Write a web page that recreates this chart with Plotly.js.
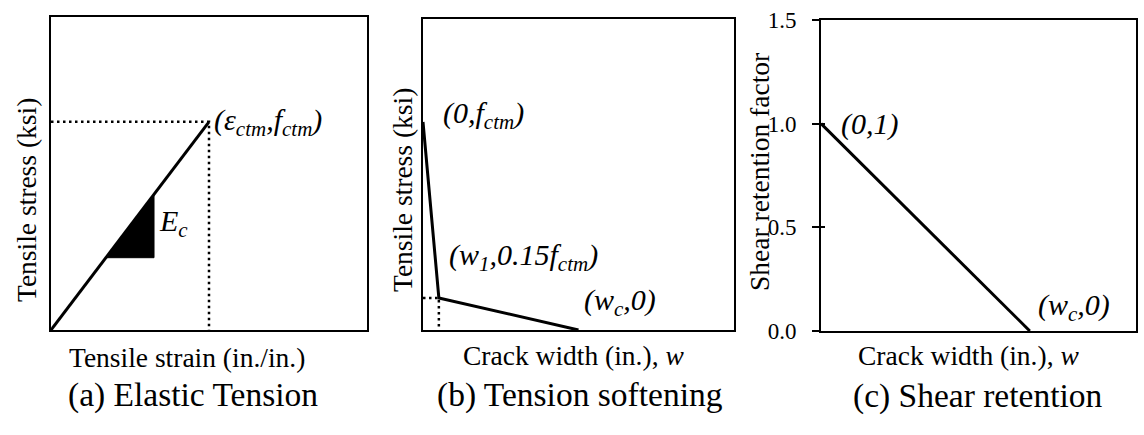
<!DOCTYPE html>
<html>
<head>
<meta charset="utf-8">
<script src="https://cdn.plot.ly/plotly-3.0.1.min.js"></script>
<style>html,body{margin:0;padding:0;background:#fff;}#chart{width:1144px;height:435px;}</style>
</head>
<body>
<div id="chart"></div>
<script>
// ---- Data (normalised) ----
// (a) Elastic tension
const elasticStrain = [0, 0.5];
const elasticStress = [0, 0.665];
const slopeTriX = [0.174, 0.326, 0.326, 0.174];
const slopeTriY = [0.231, 0.434, 0.231, 0.231];
const peakGuideX = [0, 0.5, 0.5];
const peakGuideY = [0.665, 0.665, 0];
// (b) Tension softening
const softW = [0, 0.051, 0.5];
const softStress = [0.669, 0.103, 0];
const kneeGuideX = [0, 0.051, 0.051];
const kneeGuideY = [0.103, 0.103, 0];
// (c) Shear retention
const shearW = [0, 0.663];
const shearFactor = [1.0, 0.0];
const shearTickVals = [0, 0.5, 1.0, 1.5];
const shearTickText = ["0.0", "0.5", "1.0", "1.5"];

// ---- pick an installed Times-like serif font ----
function hasFont(name) {
  const ctx = document.createElement("canvas").getContext("2d");
  const s = "mmmmmmmmmmlli Tensile stress (ksi) 0.5 WwQq";
  for (const base of ["monospace", "sans-serif"]) {
    ctx.font = "40px " + base;
    const w0 = ctx.measureText(s).width;
    ctx.font = '40px "' + name + '", ' + base;
    const w1 = ctx.measureText(s).width;
    if (Math.abs(w0 - w1) < 0.01) return false;
  }
  return true;
}
let FONT = "DejaVu Serif", K = 0.82;
for (const cand of ["Liberation Serif", "Times New Roman", "Tinos", "Nimbus Roman", "FreeSerif"]) {
  if (hasFont(cand)) { FONT = cand; K = 1; break; }
}

const W = 1144, H = 435;
const px = v => v / W;
const py = v => 1 - v / H;

const solid = {color: "#000", width: 3};
const dotted = {color: "#000", width: 2.5, dash: "2.5px,3.5px"};

const traces = [
  {x: slopeTriX, y: slopeTriY, xaxis: "x", yaxis: "y", mode: "lines", fill: "toself", fillcolor: "#000", line: {color: "#000", width: 1}, hoverinfo: "skip"},
  {x: peakGuideX, y: peakGuideY, xaxis: "x", yaxis: "y", mode: "lines", line: dotted, hoverinfo: "skip"},
  {x: elasticStrain, y: elasticStress, xaxis: "x", yaxis: "y", mode: "lines", line: solid},
  {x: kneeGuideX, y: kneeGuideY, xaxis: "x2", yaxis: "y2", mode: "lines", line: dotted, hoverinfo: "skip"},
  {x: softW, y: softStress, xaxis: "x2", yaxis: "y2", mode: "lines", line: solid},
  {x: shearW, y: shearFactor, xaxis: "x3", yaxis: "y3", mode: "lines", line: solid},
  {x: [], y: [], xaxis: "x3", yaxis: "y4", mode: "lines", hoverinfo: "skip"}
];

const boxAxis = (dom, anchor) => ({
  domain: dom, anchor: anchor, range: [0, 1], showgrid: false, zeroline: false,
  showline: true, mirror: true, linecolor: "#000", linewidth: 2,
  showticklabels: false, ticks: "", fixedrange: true
});

const annFont = {family: FONT, size: Math.round(30 * K), color: "#000"};
const titleFont = {family: FONT, size: 27.5 * K, color: "#000"};
const subFont = {family: FONT, size: 33.5 * K, color: "#000"};
const tickFont = {family: FONT, size: Math.round(23 * K), color: "#000"};

const ann = (text, x, y, xref, yref, opts) => Object.assign({
  text: text, x: x, y: y, xref: xref, yref: yref, showarrow: false,
  font: annFont, xanchor: "left", yanchor: "middle"
}, opts || {});

const layout = {
  width: W, height: H,
  margin: {l: 0, r: 0, t: 0, b: 0},
  paper_bgcolor: "#fff", plot_bgcolor: "#fff",
  font: {family: FONT, color: "#000"},
  showlegend: false,
  xaxis: boxAxis([px(51), px(367)], "y"),
  yaxis: boxAxis([py(330), py(17)], "x"),
  xaxis2: boxAxis([px(423), px(734)], "y2"),
  yaxis2: boxAxis([py(330), py(19)], "x2"),
  xaxis3: boxAxis([px(821), px(1136)], "y3"),
  yaxis3: Object.assign(boxAxis([py(331), py(20)], "x3"), {
    range: [0, 1.5], showticklabels: true, ticks: "outside", ticklen: 7, tickwidth: 2, tickcolor: "#000",
    tickvals: shearTickVals, ticktext: shearTickText, ticklabelstandoff: 11,
    tickfont: tickFont
  }),
  yaxis4: {
    domain: [py(331), py(20)], anchor: "x3", overlaying: "y3", range: [0, 1.5],
    showgrid: false, zeroline: false, showline: false, showticklabels: false,
    ticks: "inside", ticklen: 4, tickwidth: 2, tickcolor: "#000", tickvals: shearTickVals, fixedrange: true
  },
  annotations: [
    // panel (a)
    ann("<i>(ε<sub>ctm</sub>,f<sub>ctm</sub>)</i>", 0.5, 0.665, "x", "y", {xshift: 3}),
    ann("<i>E<sub>c</sub></i>", 0.326, 0.342, "x", "y", {xshift: 3}),
    ann("Tensile stress (ksi)", px(26), py(200), "paper", "paper", {textangle: -90, xanchor: "center", font: titleFont}),
    ann("Tensile strain (in./in.)", px(187), py(357), "paper", "paper", {xanchor: "center", font: titleFont}),
    ann("(a) Elastic Tension", px(193), py(395), "paper", "paper", {xanchor: "center", font: subFont}),
    // panel (b)
    ann("<i>(0,f<sub>ctm</sub>)</i>", 0.058, 0.691, "x2", "y2"),
    ann("<i>(w<sub>1</sub>,0.15f<sub>ctm</sub>)</i>", 0.077, 0.235, "x2", "y2"),
    ann("<i>(w<sub>c</sub>,0)</i>", 0.51, 0.09, "x2", "y2"),
    ann("Tensile stress (ksi)", px(402), py(190), "paper", "paper", {textangle: -90, xanchor: "center", font: titleFont}),
    ann("Crack width (in.), <i>w</i>", px(573), py(355), "paper", "paper", {xanchor: "center", font: titleFont}),
    ann("(b) Tension softening", px(580), py(395), "paper", "paper", {xanchor: "center", font: subFont}),
    // panel (c)
    ann("<i>(0,1)</i>", 0.057, 1.0, "x3", "y3"),
    ann("<i>(w<sub>c</sub>,0)</i>", 0.683, 0.116, "x3", "y3"),
    ann("Shear retention factor", px(759), py(172), "paper", "paper", {textangle: -90, xanchor: "center", font: titleFont}),
    ann("Crack width (in.), <i>w</i>", px(968), py(355), "paper", "paper", {xanchor: "center", font: titleFont}),
    ann("(c) Shear retention", px(978), py(396), "paper", "paper", {xanchor: "center", font: subFont})
  ]
};

Plotly.newPlot("chart", traces, layout, {displayModeBar: false, staticPlot: true});
</script>
</body>
</html>
